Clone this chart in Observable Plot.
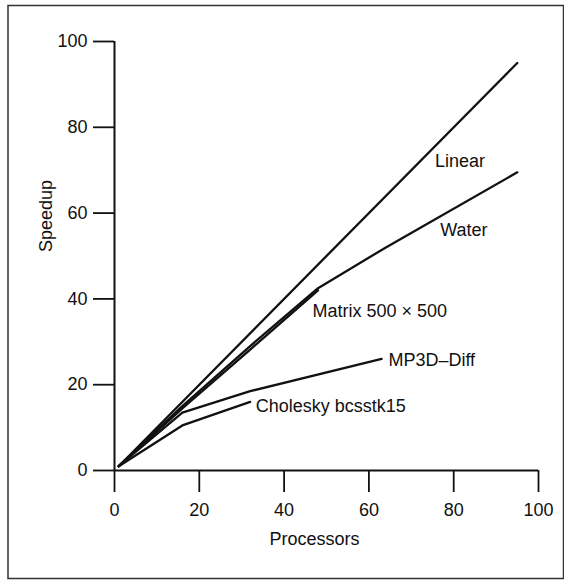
<!DOCTYPE html>
<html><head><meta charset="utf-8">
<script src="https://cdn.jsdelivr.net/npm/d3@7"></script>
<script src="https://cdn.jsdelivr.net/npm/@observablehq/plot@0.6"></script>
<style>body{margin:0;background:#fff}</style>
</head><body><div id="chart"></div>
<script>
// Series names
const seriesNames = ["Linear", "Water", "Matrix 500 × 500", "MP3D–Diff", "Cholesky bcsstk15"];
// Processors (x) and speedup (y) per series
const linearX = [1, 95];
const linearY = [1, 95];
const waterX = [1, 16, 32, 48, 64, 95];
const waterY = [1, 15, 29, 42.5, 52, 69.5];
const matrixX = [1, 16, 32, 48];
const matrixY = [1, 14.5, 28.2, 42];
const mp3dX = [1, 16, 32, 63];
const mp3dY = [1, 13.5, 18.5, 26];
const choleskyX = [1, 16, 32];
const choleskyY = [1, 10.5, 16];
// Axis ticks
const xTicks = [0, 20, 40, 60, 80, 100];
const yTicks = [0, 20, 40, 60, 80, 100];
// Label anchors (data units)
const labelX = [75.6, 76.8, 46.7, 64.6, 33.3];
const labelY = [72.2, 55.9, 37.1, 25.6, 14.9];

const seriesXs = [linearX, waterX, matrixX, mp3dX, choleskyX];
const seriesYs = [linearY, waterY, matrixY, mp3dY, choleskyY];
const rows = [];
seriesNames.forEach((name, i) => {
  seriesXs[i].forEach((x, j) => rows.push({series: name, x, y: seriesYs[i][j]}));
});
const labels = seriesNames.map((name, i) => ({text: name, x: labelX[i], y: labelY[i]}));

const chart = Plot.plot({
  width: 564,
  height: 580,
  marginLeft: 114,
  marginRight: 26,
  marginTop: 41,
  marginBottom: 110,
  x: {domain: [0, 100]},
  y: {domain: [0, 100]},
  style: {fontFamily: "'Liberation Sans', Arial, Helvetica, sans-serif", fontSize: "18px", color: "#111", background: "#fff"},
  marks: [
    Plot.frame({insetLeft: -106.5, insetTop: -36, insetRight: -25, insetBottom: -108, stroke: "#333", strokeWidth: 1.5}),
    Plot.axisX({ticks: xTicks, tickSize: 22, tickPadding: 11, label: null, strokeWidth: 1.8, fontSize: 18}),
    Plot.axisY({ticks: yTicks, tickSize: 21, tickPadding: 6, label: null, strokeWidth: 1.8, fontSize: 18}),
    Plot.ruleX([0], {strokeWidth: 2, stroke: "#111"}),
    Plot.ruleY([0], {strokeWidth: 2, stroke: "#111"}),
    Plot.line(rows, {x: "x", y: "y", z: "series", stroke: "#111", strokeWidth: 2.3}),
    Plot.text(labels, {x: "x", y: "y", text: "text", textAnchor: "start", fontSize: 18, fill: "#111"}),
    Plot.text(["Processors"], {text: d => d, frameAnchor: "bottom", lineAnchor: "middle", dy: 68.5, dx: -12, fontSize: 18, fill: "#111"}),
    Plot.text(["Speedup"], {text: d => d, frameAnchor: "left", lineAnchor: "middle", dx: -68, dy: -4, rotate: -90, fontSize: 18, fill: "#111"})
  ]
});
document.getElementById("chart").appendChild(chart);
</script>
</body></html>
